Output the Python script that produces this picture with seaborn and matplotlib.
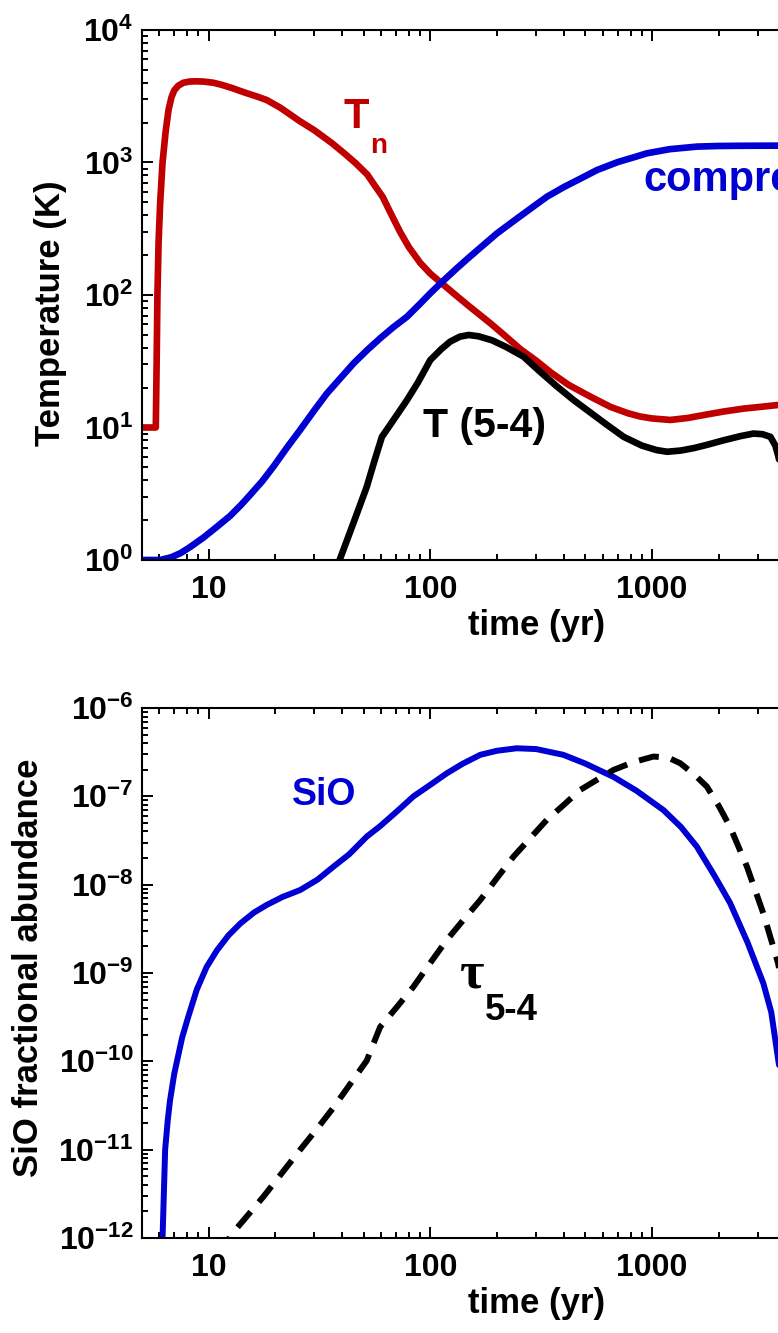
import numpy as np
import pandas as pd
import matplotlib
matplotlib.use("Agg")
import matplotlib.pyplot as plt
import seaborn as sns
from matplotlib.ticker import LogLocator, FuncFormatter, NullFormatter

# ---------------- data ----------------
# neutral temperature T_n (K)
tn_time = [5.0, 5.78, 5.83, 5.88, 5.95, 6.05, 6.2, 6.4, 6.6, 6.8, 7.0, 7.3, 7.7, 8.2,
           8.8, 9.5, 10.5, 11.5, 12.8, 14.5, 16.5, 18.3, 21.0, 25.8, 30.0, 36.0, 41.0,
           46.0, 52.0, 56.0, 61.0, 66.0, 73.0, 80.0, 90.0, 100.0, 111.0, 130.0, 150.0,
           187.0, 215.0, 255.0, 300.0, 350.0, 420.0, 527.0, 650.0, 780.0, 885.0,
           1000.0, 1210.0, 1450.0, 1750.0, 2105.0, 2600.0, 3200.0, 3720.0, 5000.0,
           18000.0]
tn_temp = [10.0, 10.0, 30.0, 100.0, 250.0, 500.0, 1000.0, 1700.0, 2500.0, 3100.0,
           3500.0, 3800.0, 4000.0, 4080.0, 4100.0, 4080.0, 4000.0, 3850.0, 3640.0,
           3380.0, 3150.0, 2960.0, 2600.0, 2050.0, 1750.0, 1400.0, 1170.0, 990.0,
           810.0, 675.0, 550.0, 420.0, 300.0, 230.0, 175.0, 145.0, 125.0, 100.0, 82.0,
           61.0, 50.0, 39.0, 32.0, 26.0, 21.0, 17.1, 14.3, 12.8, 12.1, 11.7, 11.4,
           11.8, 12.5, 13.2, 13.9, 14.4, 14.8, 15.5, 16.5]

# compression factor
comp_time = [5.0, 6.05, 6.8, 7.5, 8.3, 9.5, 10.9, 12.5, 14.0, 15.4, 17.5, 19.6, 22.5,
             25.9, 30.0, 34.2, 39.0, 45.1, 52.0, 59.4, 68.0, 78.5, 90.0, 100.0, 111.0,
             130.0, 150.0, 175.0, 200.0, 250.0, 300.0, 336.0, 400.0, 470.0, 565.0,
             700.0, 830.0, 949.0, 1200.0, 1596.0, 2000.0, 2500.0, 3717.0, 18000.0]
comp_val = [1.0, 1.0, 1.05, 1.13, 1.26, 1.48, 1.78, 2.15, 2.6, 3.1, 3.95, 5.06, 7.0,
            9.6, 13.5, 18.1, 23.2, 30.5, 38.5, 47.1, 57.0, 68.5, 86.0, 103.0, 122.0,
            156.0, 193.0, 241.0, 292.0, 385.0, 481.0, 552.0, 652.0, 748.0, 877.0,
            1007.0, 1096.0, 1173.0, 1260.0, 1318.0, 1332.0, 1337.0, 1340.0, 1340.0]

# excitation temperature of SiO (5-4)
tex_time = [39.0, 45.0, 51.7, 56.0, 60.5, 66.0, 72.0, 78.5, 88.0, 100.0, 112.0, 123.0,
            136.0, 149.0, 165.0, 190.0, 220.0, 263.0, 310.0, 370.0, 443.0, 520.0,
            620.0, 745.0, 900.0, 1050.0, 1170.0, 1350.0, 1550.0, 1770.0, 2100.0,
            2500.0, 2870.0, 3150.0, 3420.0, 3600.0, 3720.0, 3900.0, 4100.0, 4500.0]
tex_temp = [1.0, 1.9, 3.57, 5.6, 8.5, 10.5, 13.0, 16.1, 21.9, 32.3, 39.0, 44.5, 48.5,
            49.9, 48.8, 45.5, 40.5, 34.3, 26.7, 20.6, 16.1, 13.2, 10.6, 8.5, 7.3, 6.75,
            6.56, 6.7, 7.0, 7.4, 8.0, 8.6, 9.0, 8.9, 8.5, 7.3, 6.0, 4.0, 2.5, 1.0]

# SiO fractional abundance
sio_time = [6.1, 6.2, 6.37, 6.55, 6.7, 7.0, 7.2, 7.6, 8.1, 8.85, 9.8, 10.9, 12.3, 13.9,
            16.0, 18.3, 21.5, 25.9, 31.0, 36.6, 43.0, 51.7, 59.4, 70.0, 84.0, 100.0,
            118.6, 140.0, 168.0, 200.0, 245.0, 300.0, 398.0, 500.0, 670.0, 850.0,
            1125.0, 1350.0, 1592.0, 1900.0, 2250.0, 2700.0, 3180.0, 3450.0, 3717.0,
            4000.0, 4300.0, 5000.0]
sio_abund = [1.0e-13, 1.0e-12, 1.0e-11, 2.2e-11, 3.6e-11, 7.2e-11, 1.0e-10, 1.86e-10,
             3.2e-10, 6.5e-10, 1.17e-9, 1.8e-9, 2.67e-9, 3.63e-9, 4.82e-9, 5.9e-9,
             7.24e-9, 8.7e-9, 1.14e-8, 1.6e-8, 2.2e-8, 3.5e-8, 4.6e-8, 6.6e-8, 1.0e-7,
             1.35e-7, 1.82e-7, 2.34e-7, 2.95e-7, 3.28e-7, 3.5e-7, 3.43e-7, 2.95e-7,
             2.35e-7, 1.66e-7, 1.16e-7, 7.0e-8, 4.5e-8, 2.7e-8, 1.3e-8, 6.2e-9, 2.2e-9,
             7.6e-10, 3.6e-10, 1.0e-10, 3.0e-11, 6.0e-12, 3.0e-13]

# optical depth of SiO (5-4)
tau_time = [11.5, 12.5, 15.0, 17.7, 21.5, 25.9, 31.0, 36.6, 43.0, 51.7, 55.5, 59.4,
            70.0, 84.0, 100.0, 118.6, 140.0, 168.0, 200.0, 237.0, 285.0, 335.0, 400.0,
            474.0, 570.0, 670.0, 820.0, 1014.0, 1180.0, 1340.0, 1550.0, 1767.0, 2000.0,
            2250.0, 2680.0, 3180.0, 3700.0, 4300.0, 5000.0]
tau_val = [6.3e-13, 1.05e-12, 1.8e-12, 2.95e-12, 5.5e-12, 1.0e-11, 1.75e-11, 3.0e-11,
           5.3e-11, 1.02e-10, 1.6e-10, 2.45e-10, 4.0e-10, 7.0e-10, 1.3e-9, 2.36e-9,
           3.9e-9, 6.7e-9, 1.19e-8, 2.07e-8, 3.45e-8, 5.4e-8, 8.0e-8, 1.18e-7, 1.56e-7,
           1.99e-7, 2.43e-7, 2.82e-7, 2.75e-7, 2.37e-7, 1.77e-7, 1.29e-7, 7.8e-8,
           4.5e-8, 1.6e-8, 4.7e-9, 1.3e-9, 2.0e-10, 2.0e-11]

# ---------------- style ----------------
sns.set_theme(style="ticks")
plt.rcParams.update({
    "font.family": ["Liberation Sans", "DejaVu Sans"],
    "font.weight": "bold",
    "axes.labelweight": "bold",
    "text.color": "black",
    "axes.labelcolor": "black",
    "xtick.color": "black",
    "ytick.color": "black",
    "mathtext.fontset": "custom",
    "mathtext.rm": "Liberation Sans:bold",
    "mathtext.it": "Liberation Sans:bold",
    "mathtext.bf": "Liberation Sans:bold",
    "mathtext.sf": "Liberation Sans:bold",
    "axes.linewidth": 1.5,
    "axes.edgecolor": "black",
    "figure.facecolor": "white",
    "axes.facecolor": "white",
})

RED = "#C00000"
BLUE = "#0000D2"
TICK_FS = 23
LABEL_FS = 25

fig = plt.figure(figsize=(7.78, 13.33), dpi=100)
ax1 = fig.add_axes([0.1823, 0.5799, 1.0135, 0.3976])
ax2 = fig.add_axes([0.1823, 0.07127, 1.0135, 0.3976])


def ylog_fmt(v, _):
    e = int(round(np.log10(v)))
    return rf"$10^{{{e}}}$"


def xfmt(v, _):
    return f"{v:g}"


def style_axes(ax, ylim):
    ax.set_xscale("log")
    ax.set_yscale("log")
    ax.set_xlim(5, 1.8e4)
    ax.set_ylim(*ylim)
    ax.xaxis.set_major_locator(LogLocator(base=10, numticks=20))
    ax.xaxis.set_minor_locator(LogLocator(base=10, subs=np.arange(2, 10), numticks=20))
    ax.yaxis.set_major_locator(LogLocator(base=10, numticks=20))
    ax.yaxis.set_minor_locator(LogLocator(base=10, subs=np.arange(2, 10), numticks=20))
    ax.xaxis.set_major_formatter(FuncFormatter(xfmt))
    ax.xaxis.set_minor_formatter(NullFormatter())
    ax.yaxis.set_major_formatter(FuncFormatter(ylog_fmt))
    ax.yaxis.set_minor_formatter(NullFormatter())
    ax.tick_params(which="both", direction="in", top=True, right=True,
                   width=1.4, color="black")
    ax.tick_params(which="major", length=8)
    ax.tick_params(which="minor", length=4.5)
    ax.tick_params(axis="x", which="major", pad=11, labelsize=TICK_FS,
                   labelcolor="black")
    ax.tick_params(axis="y", which="major", pad=6, labelsize=TICK_FS,
                   labelcolor="black")
    for lab in ax.get_xticklabels() + ax.get_yticklabels():
        lab.set_fontweight("bold")
    ax.set_xlabel("time (yr)", fontsize=LABEL_FS, fontweight="bold", labelpad=3,
                  color="black")
    for s in ax.spines.values():
        s.set_linewidth(1.5)
        s.set_color("black")
    ax.grid(False)


# ---------------- top panel: temperatures ----------------
df_tn = pd.DataFrame({"time": tn_time, "value": tn_temp})
df_comp = pd.DataFrame({"time": comp_time, "value": comp_val})
df_tex = pd.DataFrame({"time": tex_time, "value": tex_temp})

sns.lineplot(data=df_tn, x="time", y="value", ax=ax1, color=RED, linewidth=4.8,
             estimator=None, sort=False)
sns.lineplot(data=df_comp, x="time", y="value", ax=ax1, color=BLUE, linewidth=4.8,
             estimator=None, sort=False)
sns.lineplot(data=df_tex, x="time", y="value", ax=ax1, color="black", linewidth=4.8,
             estimator=None, sort=False)
for ln in ax1.get_lines():
    ln.set_solid_joinstyle("round")
style_axes(ax1, (1.0, 1.0e4))
ax1.set_ylabel("Temperature (K)", fontsize=LABEL_FS, fontweight="bold",
               color="black")
ax1.yaxis.set_label_coords(-0.095, 0.466)

ax1.text(40.5, 1820, "T", color=RED, fontsize=30, fontweight="bold",
         ha="left", va="baseline")
ax1.text(53.5, 1180, "n", color=RED, fontsize=20, fontweight="bold",
         ha="left", va="baseline")
ax1.text(912, 610, "compression", color=BLUE, fontsize=30, fontweight="bold",
         ha="left", va="baseline")
ax1.text(92.9, 8.47, "T (5-4)", color="black", fontsize=29.5, fontweight="bold",
         ha="left", va="baseline")

# ---------------- bottom panel: SiO abundance ----------------
df_sio = pd.DataFrame({"time": sio_time, "value": sio_abund})
df_tau = pd.DataFrame({"time": tau_time, "value": tau_val})

sns.lineplot(data=df_sio, x="time", y="value", ax=ax2, color=BLUE, linewidth=4.3,
             estimator=None, sort=False)
sns.lineplot(data=df_tau, x="time", y="value", ax=ax2, color="black", linewidth=4.3,
             estimator=None, sort=False)
ax2.get_lines()[0].set_solid_joinstyle("round")
ax2.get_lines()[-1].set_dashes([3.4, 2.1])
style_axes(ax2, (1.0e-12, 1.0e-6))
ax2.set_ylabel("SiO fractional abundance", fontsize=LABEL_FS, fontweight="bold",
               color="black")
ax2.yaxis.set_label_coords(-0.123, 0.51)

ax2.text(23.7, 7.96e-8, "SiO", color=BLUE, fontsize=27, fontweight="bold",
         ha="left", va="baseline")
ax2.text(136, 6.9e-10, "\u03c4", color="black", fontsize=38, fontweight="bold",
         family=["Liberation Serif", "DejaVu Serif"], ha="left", va="baseline")
ax2.text(176.6, 2.95e-10, "5-4", color="black", fontsize=26.5, fontweight="bold",
         ha="left", va="baseline")

fig.savefig("out.png", dpi=100)
